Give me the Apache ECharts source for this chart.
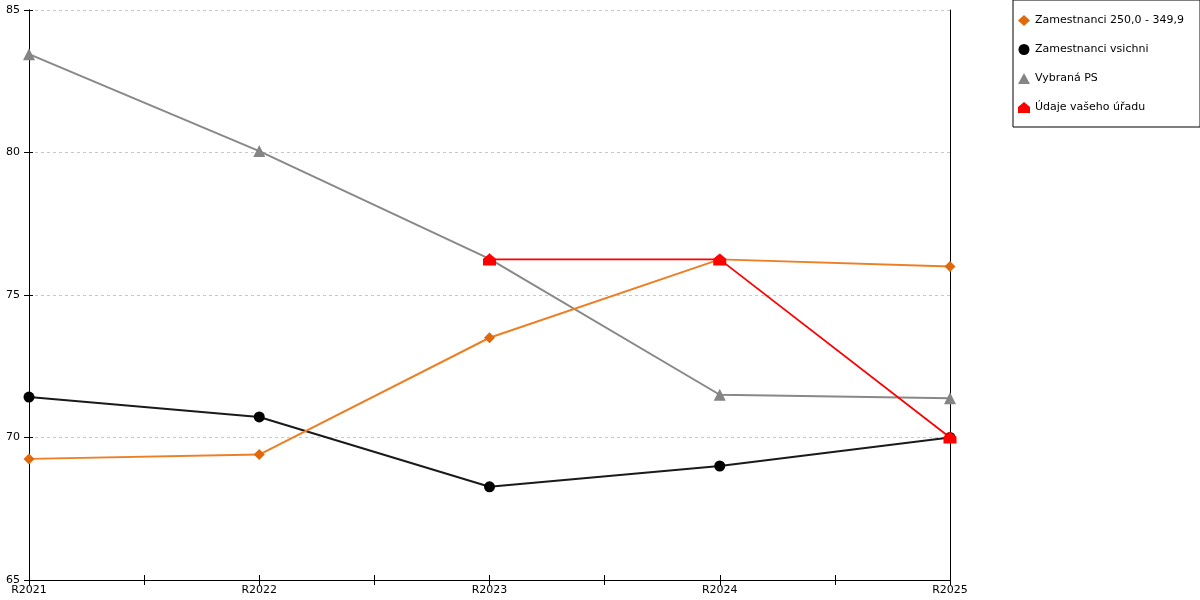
<!DOCTYPE html>
<html>
<head>
<meta charset="utf-8">
<script src="https://cdn.jsdelivr.net/npm/echarts@6/dist/echarts.min.js"></script>
<style>html,body{margin:0;padding:0;background:#fff}#c{width:1200px;height:600px}</style>
</head>
<body>
<div id="c"></div>
<script>
const categories = ['R2021', 'R2022', 'R2023', 'R2024', 'R2025'];
const seriesNames = ['Zamestnanci 250,0 - 349,9', 'Zamestnanci vsichni', 'Vybraná PS', 'Údaje vašeho úřadu'];
const orangeValues = [69.25, 69.4, 73.5, 76.25, 76.0];
const blackValues = [71.42, 70.72, 68.27, 69.0, 70.0];
const grayValues = [83.45, 80.05, 76.27, 71.5, 71.38];
const redValues = [null, null, 76.25, 76.25, 70.0];
const yTicks = { min: 65, max: 85, interval: 5 };

const FONT = 'DejaVu Sans';
const house = 'path://M0,4 L5,0 L10,4 L10,9 L0,9 Z';
const toPairs = arr => arr.map((v, i) => [i, v]);

const chart = echarts.init(document.getElementById('c'), null, { renderer: 'canvas' });

const xBase = {
  type: 'value', min: 0, max: categories.length - 1, interval: 0.5,
  gridIndex: 0, position: 'bottom',
  splitLine: { show: false },
  axisLine: { show: true, onZero: false, lineStyle: { color: '#000', width: 1 } }
};
const yBase = {
  type: 'value', min: yTicks.min, max: yTicks.max, interval: yTicks.interval,
  splitLine: { show: false },
  axisLine: { show: true, lineStyle: { color: '#000', width: 1 } }
};

chart.setOption({
  animation: false,
  textStyle: { fontFamily: FONT },
  grid: { left: 29, right: 250, top: 10, bottom: 20, containLabel: false },
  legend: {
    orient: 'vertical', left: 1013, top: 0,
    padding: [15, 16, 14, 5],
    itemWidth: 12, itemHeight: 11, itemGap: 18,
    borderColor: '#000', borderWidth: 1,
    textStyle: { fontFamily: FONT, fontSize: 11, color: '#000', padding: [0, 0, 0, 0] },
    data: [
      { name: seriesNames[0], icon: 'diamond' },
      { name: seriesNames[1], icon: 'circle' },
      { name: seriesNames[2], icon: 'triangle' },
      { name: seriesNames[3], icon: house }
    ]
  },
  xAxis: [
    Object.assign({}, xBase, {
      axisTick: { show: true, inside: false, length: 5, lineStyle: { color: '#000' } },
      axisLabel: {
        show: true, margin: 5, fontFamily: FONT, fontSize: 11, color: '#000',
        formatter: v => (Number.isInteger(v) ? categories[v] : '')
      }
    }),
    Object.assign({}, xBase, {
      axisTick: { show: true, inside: true, length: 5, lineStyle: { color: '#000' } },
      axisLabel: { show: false }
    })
  ],
  yAxis: [
    Object.assign({}, yBase, {
      position: 'left',
      splitLine: { show: true, lineStyle: { color: '#c8c8c8', type: [3, 3], width: 1 } },
      axisTick: { show: true, inside: false, length: 5, lineStyle: { color: '#000' } },
      axisLabel: { show: true, margin: 9, fontFamily: FONT, fontSize: 11, color: '#000' }
    }),
    Object.assign({}, yBase, {
      position: 'left',
      axisTick: { show: true, inside: true, length: 4, lineStyle: { color: '#000' } },
      axisLabel: { show: false }
    }),
    Object.assign({}, yBase, {
      position: 'right',
      axisTick: { show: false },
      axisLabel: { show: false }
    })
  ],
  series: [
    {
      name: seriesNames[2], type: 'line', data: toPairs(grayValues),
      symbol: 'triangle', symbolSize: 12, showAllSymbol: true,
      itemStyle: { color: '#858585' }, lineStyle: { color: '#888888', width: 2 }, z: 2
    },
    {
      name: seriesNames[1], type: 'line', data: toPairs(blackValues),
      symbol: 'circle', symbolSize: 11,
      itemStyle: { color: '#000' }, lineStyle: { color: '#1a1a1a', width: 2 }, z: 3
    },
    {
      name: seriesNames[0], type: 'line', data: toPairs(orangeValues),
      symbol: 'diamond', symbolSize: 11,
      itemStyle: { color: '#e0690c' }, lineStyle: { color: '#ec7f24', width: 2 }, z: 4
    },
    {
      name: seriesNames[3], type: 'line', data: toPairs(redValues),
      symbol: house, symbolSize: [13, 12], connectNulls: false,
      itemStyle: { color: '#ff0000' }, lineStyle: { color: '#ff0000', width: 1.8 }, z: 5
    }
  ]
});
</script>
</body>
</html>
